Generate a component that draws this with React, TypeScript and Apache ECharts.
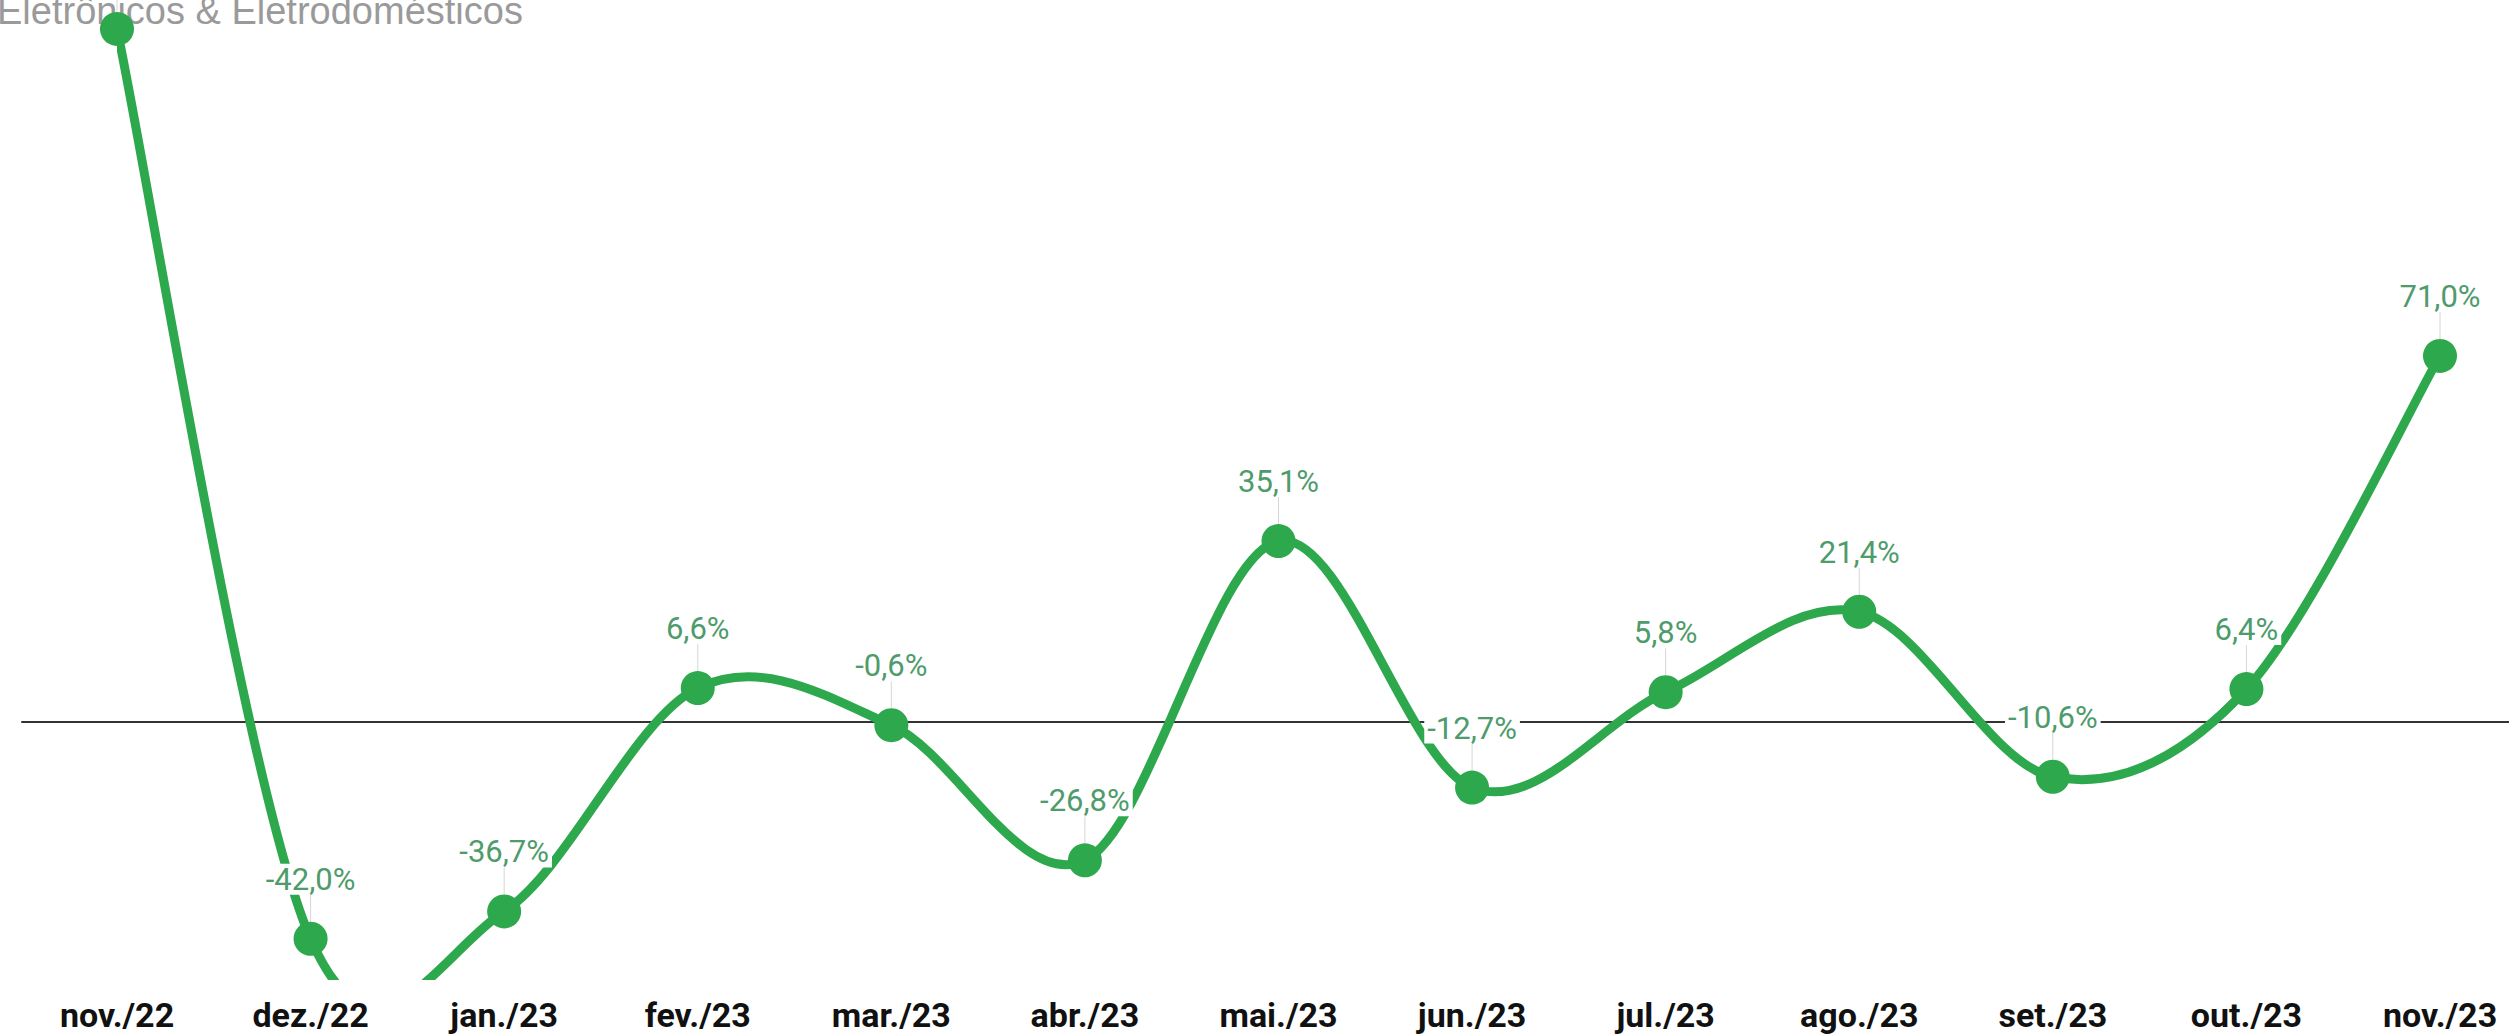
import React, { useEffect, useRef } from "react";
import * as echarts from "echarts";

// Monthly variation, Eletrônicos & Eletrodomésticos
const months = [
  "nov./22", "dez./22", "jan./23", "fev./23", "mar./23", "abr./23", "mai./23",
  "jun./23", "jul./23", "ago./23", "set./23", "out./23", "nov./23",
];
const variation = [134.4, -42.0, -36.7, 6.6, -0.6, -26.8, 35.1, -12.7, 5.8, 21.4, -10.6, 6.4, 71.0];

const chartTitle = "Eletrônicos & Eletrodomésticos";
const yMin = -50;
const yMax = 140;

const GREEN = "#2ea84d";
const LABEL_GREEN = "#4e9b6b";
const TENSION = 1 / 6; // Catmull-Rom tangent factor

const fmtPct = (v: number) => v.toFixed(1).replace(".", ",") + "%";

export default function App() {
  const ref = useRef<HTMLDivElement>(null);

  useEffect(() => {
    if (!ref.current) return;
    const chart = echarts.init(ref.current, undefined, { renderer: "svg" });
    const last = variation.length - 1;

    chart.setOption({
      animation: false,
      backgroundColor: "#ffffff",
      title: {
        text: chartTitle,
        left: -3,
        top: -8,
        padding: 0,
        z: 0,
        textStyle: {
          fontFamily: "Liberation Sans, Arial, sans-serif",
          fontWeight: "normal",
          fontSize: 38,
          color: "#9a9a9a",
        },
      },
      grid: [
        { left: 117, right: 69, top: 0, bottom: 55 },
        // full-width band used only for the zero baseline
        { left: 22, right: 0, top: 0, bottom: 55 },
      ],
      xAxis: [
        {
          type: "category",
          gridIndex: 0,
          data: months,
          boundaryGap: false,
          axisLine: { show: false },
          axisTick: { show: false },
          splitLine: { show: false },
          axisLabel: {
            margin: 18,
            fontFamily: "Roboto, sans-serif",
            fontWeight: "bold",
            fontSize: 34,
            lineHeight: 34,
            color: "#111111",
            interval: 0,
          },
        },
        {
          type: "value",
          gridIndex: 1,
          min: 0,
          max: 1,
          axisLine: { show: true, onZero: true, lineStyle: { color: "#333333", width: 2 } },
          axisTick: { show: false },
          axisLabel: { show: false },
          splitLine: { show: false },
        },
      ],
      yAxis: [
        { type: "value", gridIndex: 0, min: yMin, max: yMax, show: false, splitLine: { show: false } },
        { type: "value", gridIndex: 1, min: yMin, max: yMax, show: false, splitLine: { show: false } },
      ],
      series: [
        {
          // thin connectors between each point and its value label
          type: "custom",
          xAxisIndex: 0,
          yAxisIndex: 0,
          z: 1,
          silent: true,
          data: variation.map((v, i) => [i, v]),
          renderItem: (params: any, api: any) => {
            const p = api.coord([api.value(0), api.value(1)]);
            return {
              type: "line",
              shape: { x1: p[0], y1: p[1] - 44, x2: p[0], y2: p[1] - 17 },
              style: { stroke: "#d6d6d6", lineWidth: 1 },
            };
          },
        },
        {
          // Catmull-Rom curve, one bezier segment per pair of neighbouring months
          type: "custom",
          xAxisIndex: 0,
          yAxisIndex: 0,
          z: 3,
          clip: true,
          silent: true,
          data: variation.slice(0, last).map((v, i) => [i, v]),
          renderItem: (params: any, api: any) => {
            const i = api.value(0);
            const pt = (j: number) => {
              const k = Math.max(0, Math.min(last, j));
              return api.coord([k, variation[k]]);
            };
            const p0 = pt(i - 1);
            const p1 = pt(i);
            const p2 = pt(i + 1);
            const p3 = pt(i + 2);
            return {
              type: "bezierCurve",
              shape: {
                x1: p1[0],
                y1: p1[1],
                x2: p2[0],
                y2: p2[1],
                cpx1: p1[0] + (p2[0] - p0[0]) * TENSION,
                cpy1: p1[1] + (p2[1] - p0[1]) * TENSION,
                cpx2: p2[0] - (p3[0] - p1[0]) * TENSION,
                cpy2: p2[1] - (p3[1] - p1[1]) * TENSION,
              },
              style: { stroke: GREEN, lineWidth: 9, fill: null, lineCap: "round" },
            };
          },
        },
        {
          // markers and value labels
          type: "line",
          xAxisIndex: 0,
          yAxisIndex: 0,
          z: 5,
          data: variation,
          clip: false,
          symbol: "circle",
          symbolSize: 34,
          lineStyle: { width: 0, opacity: 0 },
          itemStyle: { color: GREEN },
          label: {
            show: true,
            position: "top",
            distance: 27,
            formatter: (p: any) => fmtPct(p.value),
            fontFamily: "Roboto, sans-serif",
            fontSize: 31,
            lineHeight: 31,
            color: LABEL_GREEN,
            backgroundColor: "#ffffff",
            padding: [0, 3],
          },
        },
      ],
    });

    return () => chart.dispose();
  }, []);

  return (
    <div
      ref={ref}
      style={{ position: "fixed", left: 0, top: 0, width: 2509, height: 1035 }}
    />
  );
}
